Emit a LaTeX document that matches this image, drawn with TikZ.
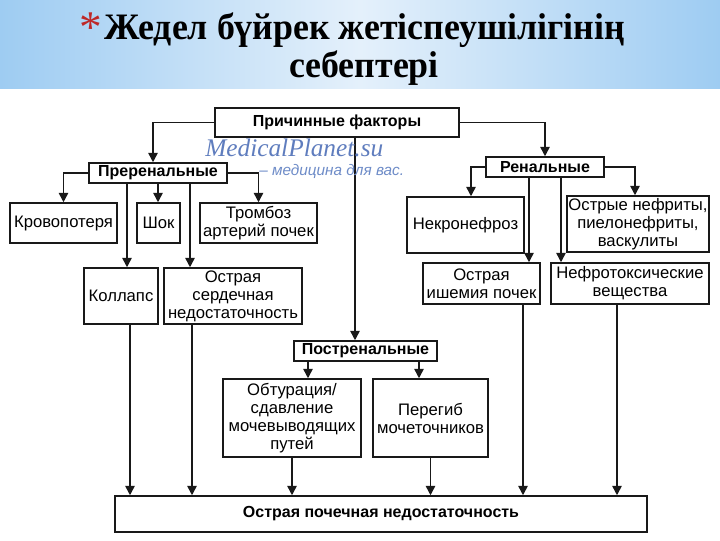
\documentclass[tikz,border=0pt]{standalone}
\usepackage{graphicx}
\usepackage{fontspec}
\setmainfont{Liberation Serif}
\newfontfamily\dfont{Liberation Sans}
\usetikzlibrary{arrows.meta,calc}
\definecolor{hdrblue}{RGB}{158,204,242}
\definecolor{hdrlight}{RGB}{228,240,251}
\definecolor{linec}{RGB}{25,25,25}
\definecolor{wmblue}{RGB}{95,125,190}
\definecolor{wmblue2}{RGB}{110,140,200}
\definecolor{astred}{RGB}{190,40,40}
\tikzset{
  sz/.style 2 args={minimum width=#1*0.75pt, minimum height=#2*0.75pt},
  box/.style={draw=linec, line width=1.15pt, fill=white, align=center, inner sep=0.5pt,
              text=black, font=\dfont\fontsize{12.5}{13.5}\selectfont},
  bbox/.style={box, font=\dfont\bfseries\fontsize{12}{13}\selectfont},
  ln/.style={draw=linec, line width=1.15pt},
  arr/.style={ln, -{Triangle[width=7pt,length=7pt]}},
  ttl/.style={font=\bfseries\fontsize{28}{30}\selectfont, anchor=base, text=black}
}
\begin{document}
\begin{tikzpicture}[x=0.75pt,y=-0.75pt]
\useasboundingbox (0,0) rectangle (720,540);
\fill[white] (0,0) rectangle (720,540);
\shade[left color=hdrblue, right color=hdrblue, middle color=hdrlight] (0,0) rectangle (720,88);

% title
\node[ttl] (t1) at (365,39) {\scalebox{0.96}[1]{Жедел бүйрек жетіспеушілігінің}};
\node[ttl] (t2) at (364,77) {\scalebox{0.96}[1]{себептері}};
\node[font=\fontsize{34}{34}\selectfont, text=astred, anchor=north] (ast) at (91,8) {*};

% boxes
\node[bbox, sz={244}{29}] (pf) at (337,122.5) {Причинные факторы};
\node[bbox, sz={138}{20}] (pre) at (158,173) {Преренальные};
\node[bbox, sz={118}{20}] (ren) at (545,167) {Ренальные};
\node[bbox, sz={143}{20}] (post) at (365.5,351) {Постренальные};
\node[box, sz={107}{40}] (krov) at (63.5,223) {Кровопотеря};
\node[box, sz={43}{40}] (shok) at (158.5,223) {Шок};
\node[box, sz={117}{40}] (tromb) at (258.5,223) {Тромбоз\\артерий почек};
\node[box, sz={74}{56}] (koll) at (121,296) {Коллапс};
\node[box, sz={138}{56}] (serd) at (233,296) {Острая\\сердечная\\недостаточность};
\node[box, sz={117}{56}] (nekr) at (465.5,225) {Некронефроз};
\node[box, sz={142}{56}] (nefr) at (638,224) {Острые нефриты,\\пиелонефриты,\\васкулиты};
\node[box, sz={117}{41}] (ish) at (481.5,283.5) {Острая\\ишемия почек};
\node[box, sz={158}{41}] (tox) at (630,283.5) {Нефротоксические\\вещества};
\node[box, sz={138}{78}] (obt) at (292,418) {Обтурация/\\сдавление\\мочевыводящих\\путей};
\node[box, sz={115}{78}] (pereg) at (430.5,418) {Перегиб\\мочеточников};
\node[bbox, sz={532}{36}] (opn) at (381,514) {Острая почечная недостаточность};

% connectors
\draw[arr] (pf.west) -| ($(pre.north)+(-5,0)$);
\draw[arr] (pf.east) -| (ren.north);
\coordinate (c1) at ($(pf.south)+(18,0)$);
\draw[arr] (c1) -- (c1 |- post.north);

\draw[arr] (pre.west) -| (krov.north);
\draw[arr] (pre.east) -| (tromb.north);
\draw[arr] (pre.south) -- (pre.south |- shok.north);
\coordinate (c2) at ($(pre.south)+(-31,0)$);
\draw[arr] (c2) -- (c2 |- koll.north);
\coordinate (c3) at ($(pre.south)+(32,0)$);
\draw[arr] (c3) -- (c3 |- serd.north);
\coordinate (c4) at ($(koll.south)+(9,0)$);
\draw[arr] (c4) -- (c4 |- opn.north);
\coordinate (c5) at ($(serd.south)+(-41,0)$);
\draw[arr] (c5) -- (c5 |- opn.north);

\draw[arr] (ren.west) -| ($(nekr.north)+(5.5,0)$);
\draw[arr] (ren.east) -| ($(nefr.north)+(-3,0)$);
\coordinate (c6) at ($(ren.south)+(-16,0)$);
\draw[arr] (c6) -- (c6 |- ish.north);
\coordinate (c7) at ($(ren.south)+(16,0)$);
\draw[arr] (c7) -- (c7 |- tox.north);
\coordinate (c8) at ($(ish.south)+(41.5,0)$);
\draw[arr] (c8) -- (c8 |- opn.north);
\coordinate (c9) at ($(tox.south)+(-13,0)$);
\draw[arr] (c9) -- (c9 |- opn.north);

\coordinate (c10) at ($(post.south)+(-57.5,0)$);
\draw[arr] (c10) -- (c10 |- obt.north);
\coordinate (c11) at ($(post.south)+(53.5,0)$);
\draw[arr] (c11) -- (c11 |- pereg.north);
\draw[arr] (obt.south) -- (obt.south |- opn.north);
\draw[arr] (pereg.south) -- (pereg.south |- opn.north);

% watermark
\node[font=\itshape\fontsize{19}{19}\selectfont, text=wmblue, anchor=base west, inner sep=0] (wm) at (205,156) {MedicalPlanet.su};
\node[font=\dfont\itshape\fontsize{11.5}{11.5}\selectfont, text=wmblue2, anchor=base west, inner sep=0] (wm2) at (259,175) {– медицина для вас.};
\end{tikzpicture}
\end{document}
